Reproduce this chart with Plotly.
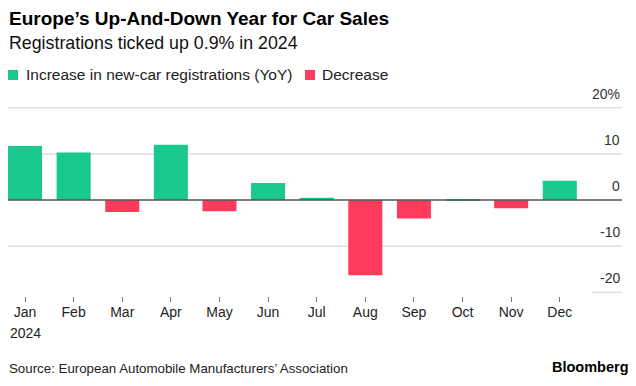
import plotly.graph_objects as go

months = ["Jan", "Feb", "Mar", "Apr", "May", "Jun", "Jul", "Aug", "Sep", "Oct", "Nov", "Dec"]
year_label = "2024"
yoy_change = [11.7, 10.3, -2.6, 12.0, -2.4, 3.7, 0.5, -16.3, -4.0, 0.15, -1.8, 4.2]
y_ticks = [20, 10, 0, -10, -20]
y_tick_text = ["20%", "10", "0", "-10", "-20"]
series_names = ["Increase in new-car registrations (YoY)", "Decrease"]

GREEN = "#18c88d"
RED = "#ff3b5d"
FONT = "Liberation Sans"

# page body has an 8px margin; work in page coordinates and offset
OFF = 8
W, H = 636 - OFF, 386 - OFF
L, R_PX, T, B = 8, 622, 94, 296  # page coords


def px_x(px):
    return (px - L) / (R_PX - L)


def px_y(py):
    return (B - py) / (B - T)


idx = list(range(len(months)))
inc = [v if v >= 0 else None for v in yoy_change]
dec = [v if v < 0 else None for v in yoy_change]

fig = go.Figure()
fig.add_trace(go.Bar(x=idx, y=inc, name=series_names[0], marker=dict(color=GREEN, line=dict(width=0)), width=0.7))
fig.add_trace(go.Bar(x=idx, y=dec, name=series_names[1], marker=dict(color=RED, line=dict(width=0)), width=0.7))

shapes = []
annotations = []

# gridlines
for v in y_ticks:
    if v == 0:
        continue
    x0 = 0 if v != -20 else px_x(592)
    shapes.append(dict(type="line", xref="paper", yref="y", x0=x0, x1=1, y0=v, y1=v,
                       line=dict(color="#dedede", width=1.5), layer="below"))
# zero line
shapes.append(dict(type="line", xref="paper", yref="y", x0=0, x1=1, y0=0, y1=0,
                   line=dict(color="#555555", width=1.5), layer="above"))

# y tick labels
for v, t in zip(y_ticks, y_tick_text):
    annotations.append(dict(xref="paper", yref="y", x=1, y=v, text=t, showarrow=False,
                            xanchor="right", yanchor="bottom", yshift=4,
                            font=dict(family=FONT, size=14, color="#333333")))

# year under first month
annotations.append(dict(xref="x", yref="paper", x=idx[0], y=px_y(333), text=year_label, showarrow=False,
                        xanchor="center", yanchor="middle",
                        font=dict(family=FONT, size=14, color="#222222")))

# title / subtitle
annotations.append(dict(xref="paper", yref="paper", x=0, y=px_y(18), text="<b>Europe’s Up-And-Down Year for Car Sales</b>",
                        showarrow=False, xanchor="left", yanchor="middle", xshift=-1,
                        font=dict(family=FONT, size=19, color="#000000")))
annotations.append(dict(xref="paper", yref="paper", x=0, y=px_y(43), text="Registrations ticked up 0.9% in 2024",
                        showarrow=False, xanchor="left", yanchor="middle", xshift=-1,
                        font=dict(family=FONT, size=17.8, color="#111111")))

# legend
leg_items = [(8, 25, GREEN, series_names[0]), (305, 321, RED, series_names[1])]
for sx, tx, col, name in leg_items:
    shapes.append(dict(type="rect", xref="paper", yref="paper", x0=px_x(sx), x1=px_x(sx + 10),
                       y0=px_y(80), y1=px_y(70), fillcolor=col, line=dict(width=0)))
    annotations.append(dict(xref="paper", yref="paper", x=px_x(tx), y=px_y(75), text=name, showarrow=False,
                            xanchor="left", yanchor="middle", xshift=-1,
                            font=dict(family=FONT, size=15.5, color="#222222")))

# source & logo
annotations.append(dict(xref="paper", yref="paper", x=0, y=px_y(368), text="Source: European Automobile Manufacturers’ Association",
                        showarrow=False, xanchor="left", yanchor="middle", xshift=-1,
                        font=dict(family=FONT, size=13.3, color="#222222")))
annotations.append(dict(xref="paper", yref="paper", x=px_x(631), y=px_y(367), text="<b>Bloomberg</b>",
                        showarrow=False, xanchor="right", yanchor="middle",
                        font=dict(family=FONT, size=14.5, color="#000000")))

fig.update_layout(
    width=W, height=H,
    margin=dict(l=L - OFF, r=(636 - R_PX), t=T - OFF, b=386 - B, pad=0),
    paper_bgcolor="white", plot_bgcolor="white",
    showlegend=False, barmode="relative",
    shapes=shapes, annotations=annotations,
    xaxis=dict(range=[-0.35, 12.28], tickmode="array", tickvals=idx, ticktext=months,
               ticks="outside", ticklen=5, tickcolor="#777777", tickwidth=1,
               ticklabelstandoff=-2,
               showgrid=False, zeroline=False, showline=False,
               tickfont=dict(family=FONT, size=14, color="#222222")),
    yaxis=dict(range=[-20.8, 23], showgrid=False, zeroline=False, showticklabels=False, showline=False),
)

fig.write_html("out.html")
